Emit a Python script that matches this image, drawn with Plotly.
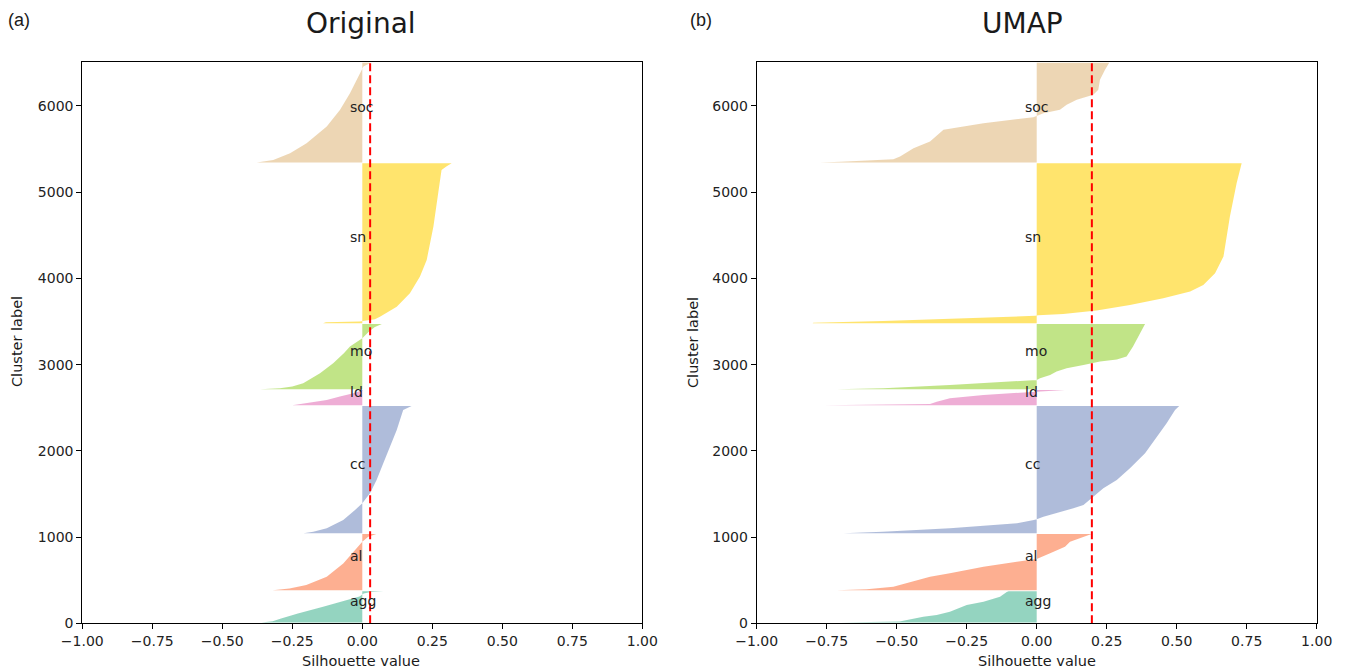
import plotly.graph_objects as go

# ---------------- data ----------------
clusters = ["agg", "al", "cc", "ld", "mo", "sn", "soc"]
colors = ["#66c2a5", "#fc8d62", "#8da0cb", "#e78ac3", "#a6d854", "#ffd92f", "#e5c494"]
label_y = [191, 708, 1782, 2617, 3092, 4407, 5922]
y_max = 6510
y_ticks = [0, 1000, 2000, 3000, 4000, 5000, 6000]
x_ticks = [-1.0, -0.75, -0.5, -0.25, 0.0, 0.25, 0.5, 0.75, 1.0]
mean_orig = 0.028
mean_umap = 0.197

# Original (sample position, silhouette value), sorted ascending within a cluster
orig_agg_y = [10, 25, 57, 115, 192, 270, 310, 345, 362, 372]
orig_agg_x = [-0.36, -0.32, -0.29, -0.23, -0.14, -0.05, -0.01, 0.005, 0.03, 0.075]
orig_al_y = [382, 405, 443, 540, 694, 849, 945, 1003, 1035]
orig_al_x = [-0.32, -0.26, -0.20, -0.127, -0.068, -0.026, 0.0, 0.021, 0.05]
orig_cc_y = [1045, 1062, 1101, 1198, 1314, 1392, 1508, 1662, 1856, 2050, 2243, 2474, 2520]
orig_cc_x = [-0.21, -0.175, -0.127, -0.068, -0.026, 0.0, 0.0275, 0.051, 0.075, 0.099, 0.123, 0.146, 0.176]
orig_ld_y = [2530, 2552, 2590, 2630, 2668, 2705]
orig_ld_x = [-0.25, -0.199, -0.127, -0.08, -0.032, 0.003]
orig_mo_y = [2715, 2727, 2745, 2784, 2900, 3016, 3135, 3210, 3306, 3386, 3436, 3462, 3470]
orig_mo_x = [-0.365, -0.294, -0.25, -0.211, -0.151, -0.104, -0.065, -0.044, 0.0, 0.025, 0.045, 0.063, 0.07]
orig_sn_y = [3480, 3492, 3499, 3512, 3527, 3556, 3672, 3828, 4021, 4214, 4601, 4988, 5258, 5297, 5335]
orig_sn_x = [-0.14, -0.13, -0.01, 0.02, 0.045, 0.063, 0.123, 0.170, 0.206, 0.230, 0.254, 0.271, 0.283, 0.30, 0.319]
orig_soc_y = [5345, 5374, 5452, 5569, 5761, 5954, 6148, 6341, 6457, 6500]
orig_soc_x = [-0.377, -0.318, -0.258, -0.199, -0.127, -0.08, -0.044, -0.014, 0.004, 0.03]

# UMAP
umap_agg_y = [10, 20, 77, 96, 135, 212, 251, 309, 362, 372]
umap_agg_x = [-0.70, -0.49, -0.405, -0.357, -0.31, -0.25, -0.19, -0.131, -0.107, -0.10]
umap_al_y = [382, 394, 425, 502, 541, 580, 657, 715, 745, 812, 889, 947, 986, 1035]
umap_al_x = [-0.714, -0.607, -0.512, -0.429, -0.381, -0.31, -0.19, -0.071, 0.0, 0.048, 0.101, 0.119, 0.155, 0.196]
umap_cc_y = [1045, 1062, 1102, 1160, 1198, 1206, 1236, 1276, 1334, 1372, 1449, 1565, 1662, 1797, 1971, 2164, 2319, 2473, 2520]
umap_cc_x = [-0.69, -0.55, -0.31, -0.07, -0.01, 0.0, 0.024, 0.071, 0.131, 0.167, 0.196, 0.238, 0.286, 0.333, 0.387, 0.429, 0.464, 0.494, 0.509]
umap_ld_y = [2530, 2535, 2544, 2571, 2610, 2649, 2680, 2690, 2705]
umap_ld_x = [-0.762, -0.45, -0.381, -0.357, -0.31, -0.19, -0.02, 0.02, 0.101]
umap_mo_y = [2715, 2726, 2764, 2803, 2822, 2842, 2880, 2919, 2958, 2997, 3035, 3060, 3093, 3209, 3300, 3470]
umap_mo_x = [-0.714, -0.548, -0.31, -0.071, 0.0, 0.012, 0.048, 0.071, 0.107, 0.167, 0.226, 0.286, 0.321, 0.344, 0.36, 0.387]
umap_sn_y = [3480, 3487, 3507, 3530, 3557, 3566, 3572, 3588, 3627, 3693, 3770, 3847, 3925, 4060, 4253, 4717, 5104, 5335]
umap_sn_x = [-0.80, -0.798, -0.548, -0.31, -0.071, -0.005, 0.005, 0.095, 0.214, 0.333, 0.452, 0.548, 0.595, 0.637, 0.667, 0.69, 0.714, 0.732]
umap_soc_y = [5345, 5352, 5383, 5413, 5510, 5587, 5723, 5800, 5870, 5885, 5916, 5955, 6013, 6071, 6129, 6187, 6303, 6419, 6500]
umap_soc_x = [-0.774, -0.70, -0.512, -0.488, -0.44, -0.381, -0.333, -0.19, -0.012, 0.0, 0.024, 0.083, 0.107, 0.143, 0.202, 0.22, 0.226, 0.244, 0.259]

orig_series = [(orig_agg_x, orig_agg_y), (orig_al_x, orig_al_y), (orig_cc_x, orig_cc_y),
               (orig_ld_x, orig_ld_y), (orig_mo_x, orig_mo_y), (orig_sn_x, orig_sn_y),
               (orig_soc_x, orig_soc_y)]
umap_series = [(umap_agg_x, umap_agg_y), (umap_al_x, umap_al_y), (umap_cc_x, umap_cc_y),
               (umap_ld_x, umap_ld_y), (umap_mo_x, umap_mo_y), (umap_sn_x, umap_sn_y),
               (umap_soc_x, umap_soc_y)]

# ---------------- figure ----------------
W, H = 1346, 671
FONT = "DejaVu Sans"


def rgba(hexc, a=0.7):
    h = hexc.lstrip("#")
    r, g, b = int(h[0:2], 16), int(h[2:4], 16), int(h[4:6], 16)
    return f"rgba({r},{g},{b},{a})"


fig = go.Figure()

for series, xa, ya in [(orig_series, "x", "y"), (umap_series, "x2", "y2")]:
    for (xs, ys), name, col in zip(series, clusters, colors):
        fig.add_trace(go.Scatter(
            x=xs, y=ys, mode="lines", fill="tozerox",
            fillcolor=rgba(col), line=dict(width=0, color=rgba(col)),
            xaxis=xa, yaxis=ya, showlegend=False, hoverinfo="skip", name=name))

ydom = [1 - 623.3 / H, 1 - 62 / H]
axis_common = dict(showline=True, linecolor="black", linewidth=1, mirror=True,
                   ticks="outside", ticklen=5, tickwidth=1, tickcolor="black",
                   showgrid=False, zeroline=False, automargin=False,
                   tickfont=dict(family=FONT, size=14, color="#222"))

fig.update_layout(
    width=W, height=H,
    margin=dict(l=0, r=0, t=0, b=0),
    paper_bgcolor="white", plot_bgcolor="white",
    xaxis=dict(domain=[82.3 / W, 642.3 / W], range=[-1, 1], tickvals=x_ticks,
               tickformat=".2f", anchor="y", **axis_common),
    yaxis=dict(domain=ydom, range=[0, y_max], tickvals=y_ticks, tickformat="d",
               anchor="x", **axis_common),
    xaxis2=dict(domain=[756.7 / W, 1316.7 / W], range=[-1, 1], tickvals=x_ticks,
                tickformat=".2f", anchor="y2", **axis_common),
    yaxis2=dict(domain=ydom, range=[0, y_max], tickvals=y_ticks, tickformat="d",
                anchor="x2", **axis_common),
)

# mean silhouette lines
for xr, yr, m in [("x", "y", mean_orig), ("x2", "y2", mean_umap)]:
    fig.add_shape(type="line", xref=xr, yref=yr, x0=m, x1=m, y0=0, y1=y_max,
                  line=dict(color="red", width=2, dash="8px,4px"), layer="above")

# cluster labels
for xr, yr in [("x", "y"), ("x2", "y2")]:
    for name, ly in zip(clusters, label_y):
        fig.add_annotation(x=-0.05, y=ly, xref=xr, yref=yr, text=name, showarrow=False,
                           xanchor="left", yanchor="bottom", yshift=-4,
                           font=dict(family=FONT, size=14, color="#222"))

# titles and panel letters, axis titles
ann = [
    dict(x=361 / W, y=1 - 23 / H, text="Original", size=28, fam=FONT, angle=0),
    dict(x=1022 / W, y=1 - 24 / H, text="UMAP", size=28, fam=FONT, angle=0),
    dict(x=19 / W, y=1 - 20 / H, text="(a)", size=18, fam="Liberation Sans", angle=0),
    dict(x=701 / W, y=1 - 20 / H, text="(b)", size=18, fam="Liberation Sans", angle=0),
    dict(x=361 / W, y=1 - 661 / H, text="Silhouette value", size=14.5, fam=FONT, angle=0),
    dict(x=1037 / W, y=1 - 661 / H, text="Silhouette value", size=14.5, fam=FONT, angle=0),
    dict(x=17 / W, y=1 - 342 / H, text="Cluster label", size=14.5, fam=FONT, angle=-90),
    dict(x=693 / W, y=1 - 342 / H, text="Cluster label", size=14.5, fam=FONT, angle=-90),
]
for a in ann:
    fig.add_annotation(x=a["x"], y=a["y"], xref="paper", yref="paper", text=a["text"],
                       showarrow=False, xanchor="center", yanchor="middle",
                       textangle=a["angle"],
                       font=dict(family=a["fam"], size=a["size"], color="#1a1a1a"))

fig.write_html("out.html")
